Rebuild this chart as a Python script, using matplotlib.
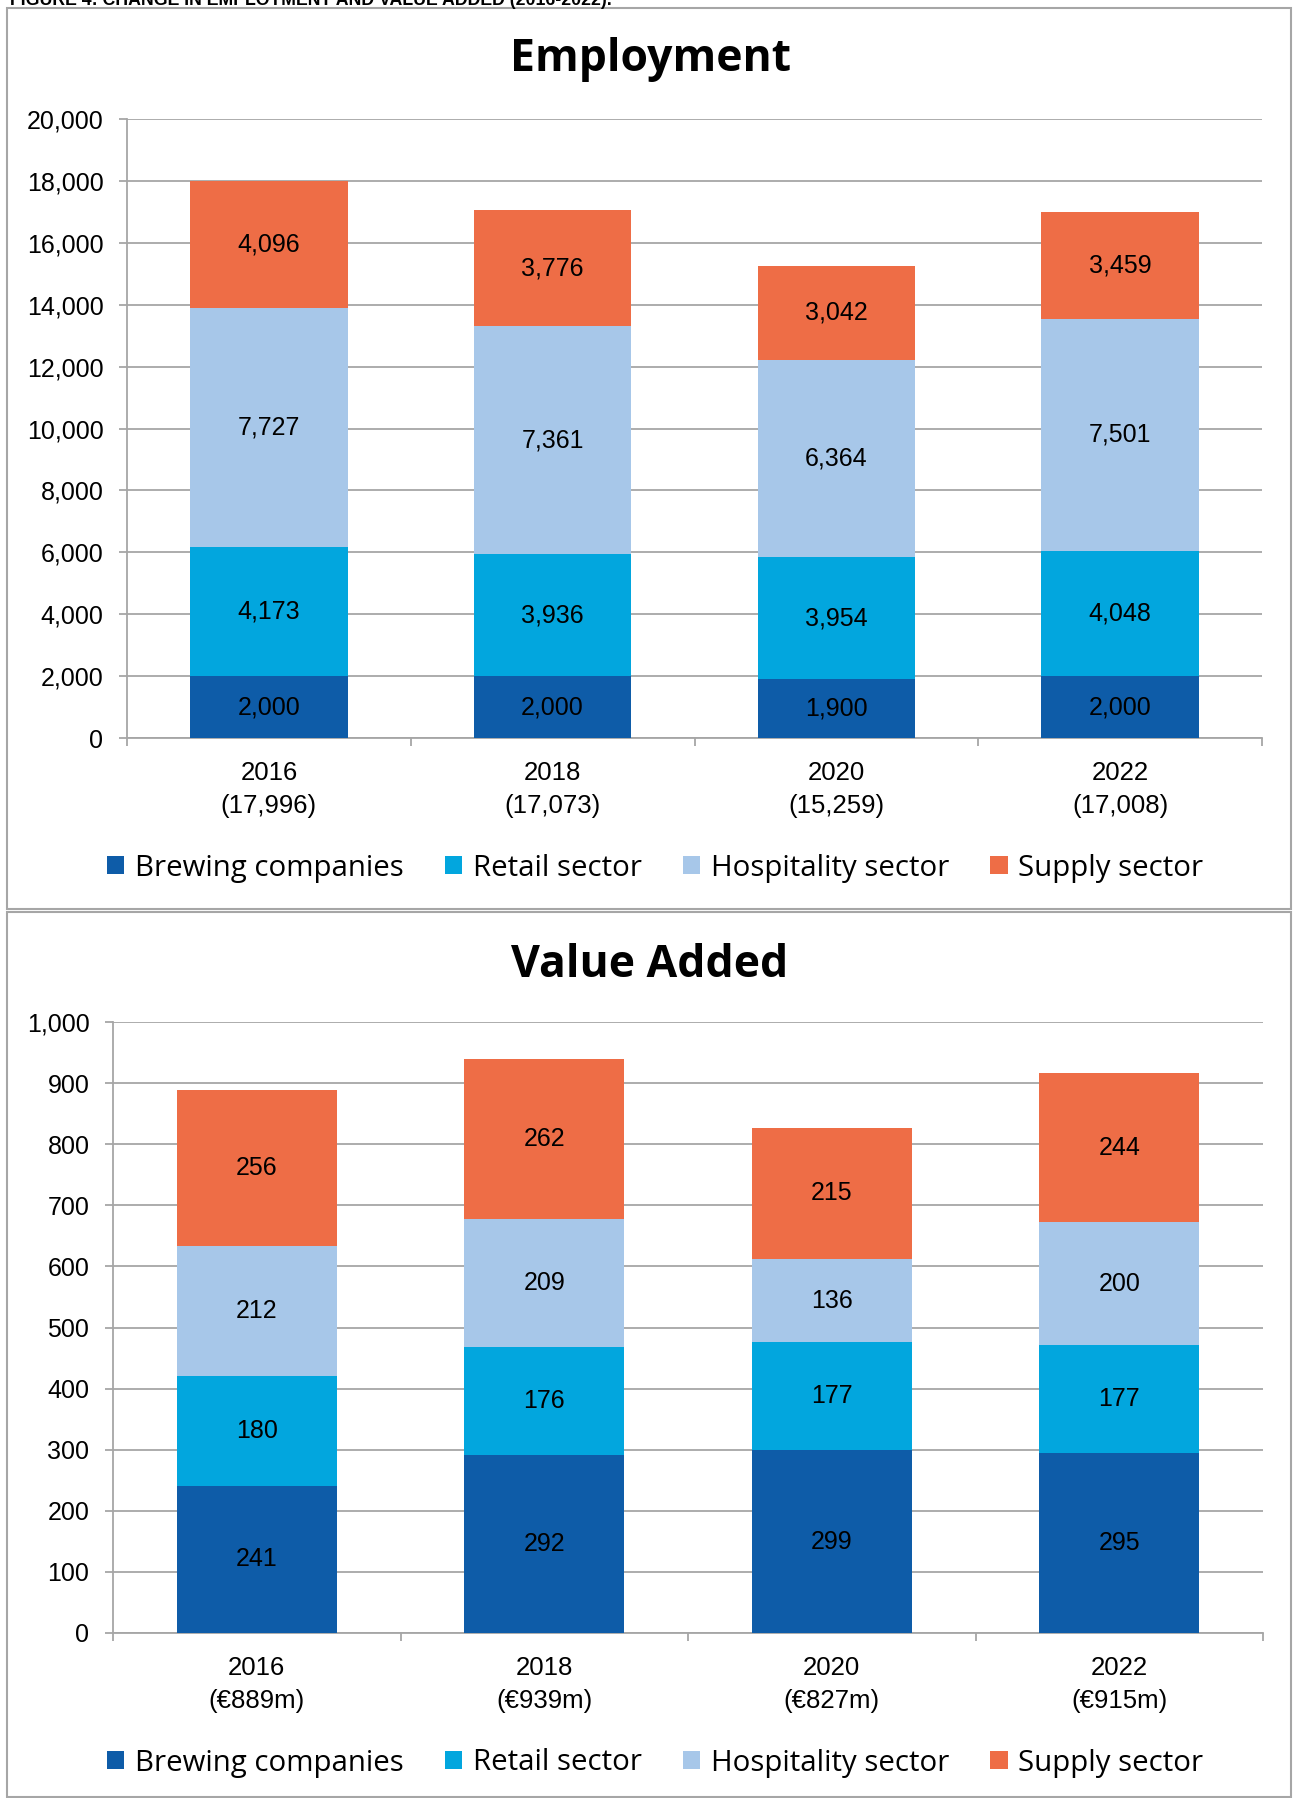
import matplotlib
matplotlib.use("Agg")
import matplotlib.pyplot as plt
from matplotlib.patches import Patch, Rectangle
from matplotlib.ticker import FuncFormatter, FixedLocator

years = ["2016", "2018", "2020", "2022"]
series = ["Brewing companies", "Retail sector", "Hospitality sector", "Supply sector"]
colors = ["#0E5CA8", "#02A6DE", "#A7C7E9", "#EE6D46"]

emp_brewing = [2000, 2000, 1900, 2000]
emp_retail = [4173, 3936, 3954, 4048]
emp_hospitality = [7727, 7361, 6364, 7501]
emp_supply = [4096, 3776, 3042, 3459]
emp_totals = ["17,996", "17,073", "15,259", "17,008"]

va_brewing = [241, 292, 299, 295]
va_retail = [180, 176, 177, 177]
va_hospitality = [212, 209, 136, 200]
va_supply = [256, 262, 215, 244]
va_totals = ["€889m", "€939m", "€827m", "€915m"]

W, H = 1293, 1798
fig = plt.figure(figsize=(W / 100, H / 100), dpi=100)
fig.patch.set_facecolor("white")

LABEL_FONT = ["Liberation Sans", "DejaVu Sans"]
TITLE_FONT = ["Open Sans", "DejaVu Sans"]
LEGEND_FONT = ["Open Sans", "DejaVu Sans"]
GRID = "#A6A6A6"


def fx(px):
    return px / W


def fy(py):
    return 1 - py / H


# panel frames
for top, bottom in [(8, 909), (912, 1797)]:
    fig.patches.append(Rectangle((fx(7), fy(bottom)), fx(1291) - fx(7), fy(top) - fy(bottom),
                                 transform=fig.transFigure, fill=False,
                                 edgecolor=GRID, linewidth=1.5))

# figure caption running off the top edge
fig.text(fx(10), fy(5), "FIGURE 4: CHANGE IN EMPLOYMENT AND VALUE ADDED (2016-2022).",
         fontsize=12.8, fontweight="bold", family=LABEL_FONT, va="baseline", ha="left")


def stacked(ax, layers, ymax, ystep, totals, title, title_y, legend_y):
    x = list(range(len(years)))
    bottom = [0] * len(years)
    for vals, col in zip(layers, colors):
        ax.bar(x, vals, width=0.555, bottom=bottom, color=col, zorder=3)
        for xi, b, v in zip(x, bottom, vals):
            ax.text(xi, b + v / 2, f"{v:,}", ha="center", va="center",
                    fontsize=18, family=LABEL_FONT, color="black", zorder=4)
        bottom = [b + v for b, v in zip(bottom, vals)]

    ax.set_xlim(-0.5, len(years) - 0.5)
    ax.set_ylim(0, ymax)
    ax.set_yticks(range(0, ymax + 1, ystep))
    ax.yaxis.set_major_formatter(FuncFormatter(lambda v, p: f"{int(v):,}"))
    ax.grid(axis="y", color=GRID, linewidth=1.3, zorder=0)
    ax.set_axisbelow(True)

    ax.set_xticks(x)
    ax.set_xticklabels([f"{y}\n({t})" for y, t in zip(years, totals)],
                       family=LABEL_FONT, fontsize=18.5, linespacing=1.5)
    ax.xaxis.set_minor_locator(FixedLocator([i - 0.5 for i in range(len(years) + 1)]))
    ax.tick_params(axis="x", which="major", length=0, pad=16.5)
    ax.tick_params(axis="x", which="minor", length=6, width=1.3, color=GRID, direction="out")
    ax.tick_params(axis="y", length=6, width=1.3, color=GRID, pad=11, labelsize=18)
    for lab in ax.get_yticklabels():
        lab.set_family(LABEL_FONT)

    for s in ["top", "right"]:
        ax.spines[s].set_visible(False)
    for s in ["left", "bottom"]:
        ax.spines[s].set_color(GRID)
        ax.spines[s].set_linewidth(1.3)

    fig.text(fx(650), fy(title_y), title, ha="center", va="center",
             fontsize=32, fontweight="bold", family=TITLE_FONT)

    handles = [Patch(facecolor=c, edgecolor="none", label=s) for s, c in zip(series, colors)]
    fig.legend(handles=handles, loc="center", bbox_to_anchor=(fx(655), fy(legend_y)),
               ncol=4, frameon=False, handlelength=0.6, handleheight=0.6,
               handletextpad=0.35, columnspacing=1.4,
               prop={"family": LEGEND_FONT, "size": 21.2})


ax1 = fig.add_axes([fx(127), fy(738), fx(1262) - fx(127), fy(119) - fy(738)])
stacked(ax1, [emp_brewing, emp_retail, emp_hospitality, emp_supply], 20000, 2000,
        emp_totals, "Employment", 60, 868)

ax2 = fig.add_axes([fx(113), fy(1633), fx(1263) - fx(113), fy(1022) - fy(1633)])
stacked(ax2, [va_brewing, va_retail, va_hospitality, va_supply], 1000, 100,
        va_totals, "Value Added", 965, 1763)

fig.savefig("out.png", dpi=100, facecolor="white")
